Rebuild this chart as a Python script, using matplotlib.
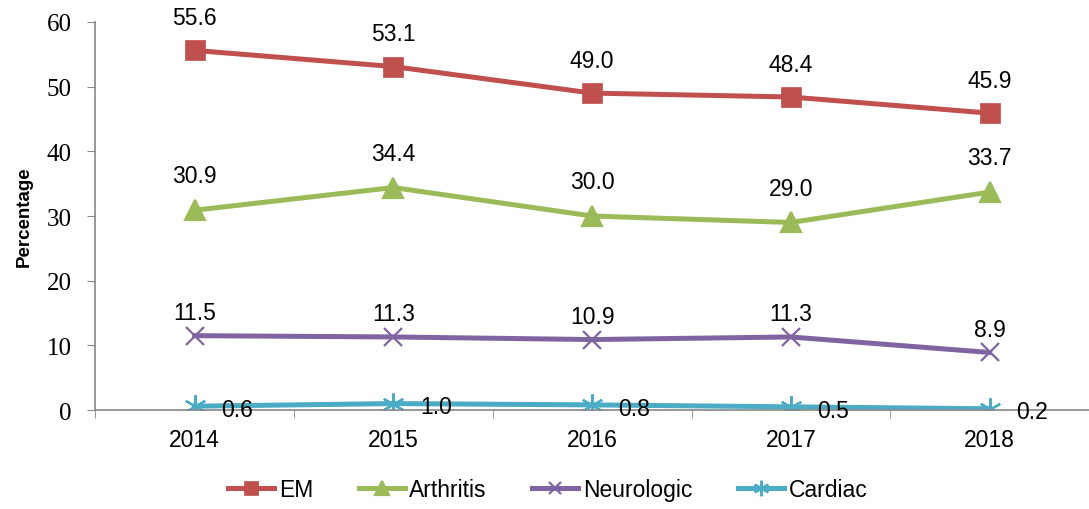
import numpy as np
import matplotlib.pyplot as plt

years = ['2014', '2015', '2016', '2017', '2018']
em = [55.6, 53.1, 49.0, 48.4, 45.9]
arthritis = [30.9, 34.4, 30.0, 29.0, 33.7]
neurologic = [11.5, 11.3, 10.9, 11.3, 8.9]
cardiac = [0.6, 1.0, 0.8, 0.5, 0.2]

# name, values, colour, marker, size, label offset (pt), ha
series = [
    ('EM', em, '#C0504D', 's', 14, (0, 19), 'center'),
    ('Arthritis', arthritis, '#9BBB59', '^', 15, (0, 20), 'center'),
    ('Neurologic', neurologic, '#8064A2', 'x', 13, (0, 12), 'center'),
    ('Cardiac', cardiac, '#4BACC6', (6, 2, 0), 16, (19, -7), 'left'),
]

fig = plt.figure(figsize=(10.89, 5.10), dpi=100)
ax = fig.add_axes([0.0875, 0.194, 0.9125, 0.761])

x = np.arange(len(years))
for name, vals, col, mk, ms, off, ha in series:
    ax.plot(x, vals, color=col, lw=3.6, marker=mk, markersize=ms,
            markeredgewidth=1.6 if mk != 's' else 0.5, label=name)
    for xi, v in zip(x, vals):
        ax.annotate(f'{v:.1f}', (xi, v), xytext=off, textcoords='offset points',
                    ha=ha, va='baseline', fontsize=16.5, family='Liberation Sans',
                    clip_on=False)

ax.set_xlim(-0.5, 4.5)
ax.set_ylim(0, 60)
ax.set_yticks(range(0, 61, 10))
ax.set_yticklabels([str(v) for v in range(0, 61, 10)], family='Liberation Serif', fontsize=18)
ax.set_xticks(x)
ax.set_xticklabels(years, family='Liberation Sans', fontsize=16.5)
ax.set_xticks(np.arange(-0.5, 5, 1), minor=True)
ax.tick_params(axis='x', which='major', length=0, pad=13)
ax.tick_params(axis='x', which='minor', length=6, color='#868686', direction='out')
ax.tick_params(axis='y', length=6, color='#868686', direction='out', pad=11)
for s in ['top', 'right']:
    ax.spines[s].set_visible(False)
for s in ['left', 'bottom']:
    ax.spines[s].set_color('#868686')
    ax.spines[s].set_linewidth(1.2)
ax.set_ylabel('Percentage', fontsize=13.5, fontweight='bold', family='Liberation Sans', labelpad=10)

fig.legend(loc='center', bbox_to_anchor=(0.503, 0.038), ncol=4, frameon=False,
           prop={'family': 'Liberation Sans', 'size': 16.5}, handlelength=2.0,
           handletextpad=0.2, columnspacing=2.0, markerscale=0.7)

fig.savefig('out.png', dpi=100)
